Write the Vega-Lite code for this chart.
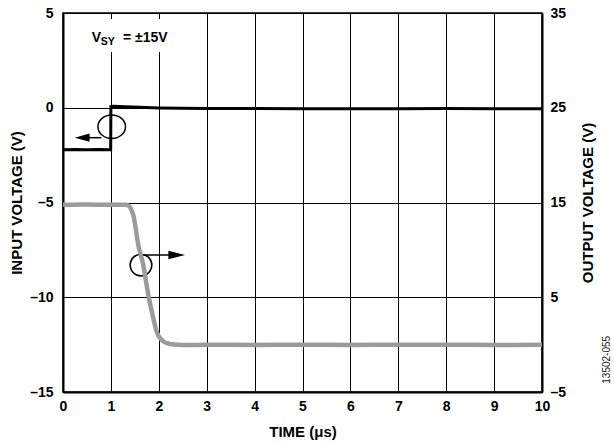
{
  "$schema": "https://vega.github.io/schema/vega-lite/v6.json",
  "width": 479,
  "height": 379,
  "autosize": {"type": "none"},
  "padding": {"left": 63, "top": 13, "right": 72, "bottom": 54},
  "background": "#ffffff",
  "config": {
    "font": "Liberation Sans",
    "view": {"stroke": "#000000", "strokeWidth": 1.5},
    "axis": {
      "ticks": false,
      "domainColor": "#000000",
      "domainWidth": 2,
      "gridColor": "#000000",
      "gridWidth": 1,
      "gridOpacity": 1,
      "labelColor": "#000000",
      "labelFontSize": 14,
      "labelFontWeight": "bold",
      "labelOverlap": false,
      "labelFlush": false,
      "titleColor": "#000000",
      "titleFontSize": 15,
      "titleFontWeight": "bold"
    }
  },
  "datasets": {
    "input": [
      {"t": 0, "v": -2.22}, {"t": 0.25, "v": -2.2}, {"t": 0.5, "v": -2.22}, {"t": 0.75, "v": -2.2}, {"t": 0.995, "v": -2.21},
      {"t": 1.0, "v": 0.06}, {"t": 1.05, "v": 0.08}, {"t": 1.3, "v": 0.05}, {"t": 1.6, "v": 0.02}, {"t": 2.0, "v": -0.01},
      {"t": 2.5, "v": -0.03}, {"t": 3, "v": -0.04}, {"t": 4, "v": -0.04}, {"t": 5, "v": -0.05}, {"t": 6, "v": -0.05},
      {"t": 7, "v": -0.05}, {"t": 8, "v": -0.04}, {"t": 9, "v": -0.05}, {"t": 10, "v": -0.05}
    ],
    "output": [
      {"t": 0, "w": 14.75}, {"t": 0.5, "w": 14.78}, {"t": 1.0, "w": 14.75}, {"t": 1.3, "w": 14.75}, {"t": 1.363, "w": 14.68},
      {"t": 1.40, "w": 14.5}, {"t": 1.43, "w": 14.2}, {"t": 1.468, "w": 13.68}, {"t": 1.572, "w": 10.51}, {"t": 1.676, "w": 8.4},
      {"t": 1.781, "w": 5.24}, {"t": 1.885, "w": 2.78}, {"t": 1.956, "w": 1.36}, {"t": 2.06, "w": 0.49}, {"t": 2.15, "w": 0.2},
      {"t": 2.234, "w": 0.07}, {"t": 2.4, "w": -0.02}, {"t": 2.616, "w": -0.04}, {"t": 3, "w": -0.02}, {"t": 4, "w": -0.03},
      {"t": 5, "w": -0.02}, {"t": 6, "w": -0.03}, {"t": 7, "w": -0.02}, {"t": 8, "w": -0.02}, {"t": 9, "w": -0.03}, {"t": 10, "w": -0.02}
    ],
    "box": [{"t": 0.46, "t2": 2.42, "v": 4.68, "v2": 2.94}],
    "bigText": [
      {"t": 0.60, "v": 3.45, "text": "V"},
      {"t": 1.253, "v": 3.45, "text": "="},
      {"t": 1.503, "v": 3.45, "text": "±15V"}
    ],
    "subText": [{"t": 0.787, "v": 3.31, "text": "SY"}],
    "circle1": [{"t": 1.017, "v": -1.0}],
    "circle2": [{"t": 1.628, "v": -8.3}],
    "arrowLines": [
      {"t": 0.80, "t2": 0.45, "v": -1.58},
      {"t": 1.64, "t2": 2.3, "v": -7.77}
    ],
    "headLeft": [{"t": 0.40, "v": -1.58}],
    "headRight": [{"t": 2.374, "v": -7.77}],
    "code": [{"t": 11.357, "v": -13.3, "text": "13502-055"}]
  },
  "encoding": {
    "x": {
      "field": "t", "type": "quantitative",
      "scale": {"domain": [0, 10], "nice": false, "zero": false},
      "axis": {"values": [0, 1, 2, 3, 4, 5, 6, 7, 8, 9, 10], "grid": true, "labelPadding": 7, "title": "TIME (μs)", "titlePadding": 11}
    }
  },
  "layer": [
    {
      "encoding": {
        "y": {
          "field": "v", "type": "quantitative",
          "scale": {"domain": [-15, 5], "nice": false, "zero": false},
          "axis": {
            "orient": "left", "values": [-15, -10, -5, 0, 5], "grid": true, "labelPadding": 10,
            "labelExpr": "datum.value < 0 ? '–' + abs(datum.value) : datum.label",
            "title": "INPUT VOLTAGE (V)", "titlePadding": 5
          }
        }
      },
      "layer": [
        {
          "data": {"name": "box"},
          "mark": {"type": "rect", "color": "#ffffff", "opacity": 1},
          "encoding": {"x2": {"field": "t2"}, "y2": {"field": "v2"}}
        },
        {
          "data": {"name": "input"},
          "mark": {"type": "line", "color": "#000000", "strokeWidth": 3}
        },
        {
          "data": {"name": "bigText"},
          "mark": {"type": "text", "align": "left", "baseline": "alphabetic", "fontSize": 14, "fontWeight": "bold", "color": "#000000"},
          "encoding": {"text": {"field": "text"}}
        },
        {
          "data": {"name": "subText"},
          "mark": {"type": "text", "align": "left", "baseline": "alphabetic", "fontSize": 10.5, "fontWeight": "bold", "color": "#000000"},
          "encoding": {"text": {"field": "text"}}
        },
        {
          "data": {"name": "circle1"},
          "mark": {"type": "point", "shape": "M-1,0A1,0.85,0,1,1,1,0A1,0.85,0,1,1,-1,0Z", "size": 760, "filled": false, "stroke": "#000000", "strokeWidth": 1.5, "opacity": 1}
        },
        {
          "data": {"name": "circle2"},
          "mark": {"type": "point", "shape": "circle", "size": 470, "filled": false, "stroke": "#000000", "strokeWidth": 1.5, "opacity": 1}
        },
        {
          "data": {"name": "arrowLines"},
          "mark": {"type": "rule", "color": "#000000", "strokeWidth": 1.5},
          "encoding": {"x2": {"field": "t2"}}
        },
        {
          "data": {"name": "headLeft"},
          "mark": {"type": "point", "shape": "M-1,0L1,-0.55L1,0.55Z", "size": 220, "filled": true, "color": "#000000", "opacity": 1, "strokeWidth": 0}
        },
        {
          "data": {"name": "headRight"},
          "mark": {"type": "point", "shape": "M1,0L-1,-0.5L-1,0.5Z", "size": 279, "filled": true, "color": "#000000", "opacity": 1, "strokeWidth": 0}
        },
        {
          "data": {"name": "code"},
          "mark": {"type": "text", "angle": 270, "align": "center", "baseline": "middle", "fontSize": 10, "font": "Liberation Sans Narrow, Liberation Sans", "color": "#222222"},
          "encoding": {"text": {"field": "text"}}
        }
      ]
    },
    {
      "data": {"name": "output"},
      "mark": {"type": "line", "color": "#9b9b9b", "strokeWidth": 4.5, "interpolate": "monotone"},
      "encoding": {
        "y": {
          "field": "w", "type": "quantitative",
          "scale": {"domain": [-5, 35], "nice": false, "zero": false},
          "axis": {
            "orient": "right", "values": [-5, 5, 15, 25, 35], "grid": false, "labelPadding": 8,
            "labelExpr": "datum.value < 0 ? '–' + abs(datum.value) : datum.label",
            "title": "OUTPUT VOLTAGE (V)", "titleAngle": 270, "titleBaseline": "top", "titlePadding": 15
          }
        }
      }
    }
  ],
  "resolve": {"scale": {"y": "independent"}, "axis": {"y": "independent"}}
}
